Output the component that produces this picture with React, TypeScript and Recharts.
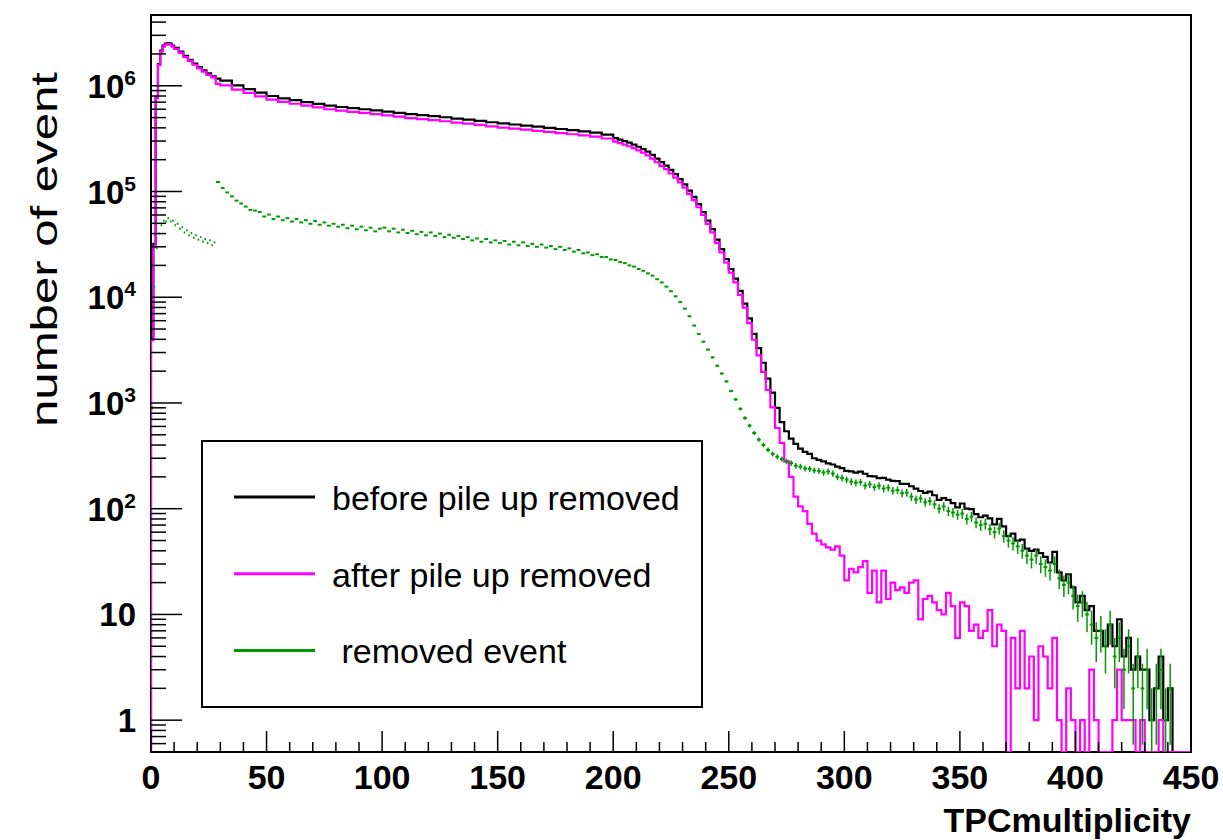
import React from 'react';
import { ComposedChart, Line, Scatter, ErrorBar, XAxis, YAxis, ReferenceArea, Legend } from 'recharts';

// histogram bins: [lower edge, entries]
const beforePileUp: [number, number][] = [
  [0, 4200], [1, 3.2e4], [2, 7.8e5], [3, 1.6e6], [4, 2.15e6], [5, 2.4e6], [6, 2.5e6], [7, 2.53e6], [8, 2.5e6], [9, 2.4e6],
  [10, 2.28e6], [12, 2.1e6], [14, 1.92e6], [16, 1.76e6], [18, 1.62e6], [20, 1.5e6], [22, 1.4e6], [24, 1.31e6], [26, 1.23e6], [28, 1.17e6],
  [30, 1.12e6], [35, 1.01e6], [40, 9.3e5], [45, 8.6e5], [50, 8.0e5], [55, 7.6e5], [60, 7.3e5], [65, 7.0e5], [70, 6.75e5], [75, 6.5e5],
  [80, 6.3e5], [85, 6.15e5], [90, 6.0e5], [95, 5.85e5], [100, 5.7e5], [105, 5.55e5], [110, 5.4e5], [115, 5.28e5], [120, 5.16e5], [125, 5.04e5],
  [130, 4.9e5], [135, 4.78e5], [140, 4.65e5], [145, 4.52e5], [150, 4.4e5], [155, 4.3e5], [160, 4.2e5], [165, 4.1e5], [170, 4.0e5], [175, 3.9e5],
  [180, 3.8e5], [185, 3.7e5], [190, 3.6e5], [195, 3.45e5],
  [200, 3.2e5], [202, 3.1e5], [204, 3.0e5], [206, 2.9e5], [208, 2.78e5], [210, 2.65e5], [212, 2.52e5], [214, 2.38e5], [216, 2.22e5], [218, 2.05e5],
  [220, 1.9e5], [222, 1.76e5], [224, 1.6e5], [226, 1.46e5], [228, 1.31e5], [230, 1.17e5], [232, 1.02e5], [234, 8.9e4], [236, 7.6e4], [238, 6.4e4],
  [240, 5.3e4], [242, 4.4e4], [244, 3.5e4], [246, 2.85e4], [248, 2.3e4], [250, 1.85e4], [252, 1.5e4], [254, 1.15e4], [256, 8700], [258, 6300],
  [260, 4500], [262, 3300], [264, 2400], [266, 1700], [268, 1250], [270, 900], [272, 660], [274, 540], [276, 460], [278, 410],
  [280, 370], [282, 345], [284, 330], [286, 300], [288, 290], [290, 280], [292, 268], [294, 262], [296, 250], [298, 242],
  [300, 228], [302, 225], [304, 219], [306, 224], [308, 214], [310, 203], [312, 202], [314, 195], [316, 196], [318, 188],
  [320, 183], [322, 182], [324, 172], [326, 172], [328, 163], [330, 155], [332, 147], [334, 141], [336, 145], [338, 134],
  [340, 121], [342, 126], [344, 121], [346, 113], [348, 103], [350, 112], [352, 100], [354, 99], [356, 89], [358, 83],
  [360, 86], [362, 81], [364, 71], [366, 80], [368, 68], [370, 55], [372, 58], [374, 50], [376, 51], [378, 42],
  [380, 40], [382, 41], [384, 38], [386, 35], [388, 31], [390, 39], [392, 25], [394, 21], [396, 24], [398, 18],
  [400, 13], [402, 15], [404, 11], [406, 12], [408, 7], [410, 7], [412, 5], [414, 8], [416, 5], [418, 9],
  [420, 4], [422, 6], [424, 3], [426, 4], [428, 3], [430, 3], [432, 1], [434, 2], [436, 4], [438, 1],
  [440, 2], [442, 0], [444, 0], [446, 0], [448, 0],
];

const afterPileUp: [number, number][] = [
  [0, 3900], [1, 3.0e4], [2, 7.6e5], [3, 1.57e6], [4, 2.1e6], [5, 2.35e6], [6, 2.45e6], [7, 2.48e6], [8, 2.45e6], [9, 2.35e6],
  [10, 2.23e6], [12, 2.05e6], [14, 1.87e6], [16, 1.72e6], [18, 1.58e6], [20, 1.46e6], [22, 1.36e6], [24, 1.27e6], [26, 1.2e6], [28, 1.04e6],
  [30, 1.01e6], [35, 9.2e5], [40, 8.55e5], [45, 7.95e5], [50, 7.4e5], [55, 7.04e5], [60, 6.76e5], [65, 6.48e5], [70, 6.24e5], [75, 6.0e5],
  [80, 5.81e5], [85, 5.67e5], [90, 5.53e5], [95, 5.39e5], [100, 5.24e5], [105, 5.1e5], [110, 4.95e5], [115, 4.84e5], [120, 4.73e5], [125, 4.62e5],
  [130, 4.49e5], [135, 4.38e5], [140, 4.26e5], [145, 4.13e5], [150, 4.02e5], [155, 3.93e5], [160, 3.84e5], [165, 3.75e5], [170, 3.66e5], [175, 3.57e5],
  [180, 3.48e5], [185, 3.39e5], [190, 3.31e5], [195, 3.17e5],
  [200, 2.96e5], [202, 2.87e5], [204, 2.77e5], [206, 2.68e5], [208, 2.57e5], [210, 2.45e5], [212, 2.33e5], [214, 2.2e5], [216, 2.05e5], [218, 1.89e5],
  [220, 1.75e5], [222, 1.63e5], [224, 1.48e5], [226, 1.35e5], [228, 1.22e5], [230, 1.09e5], [232, 9.5e4], [234, 8.3e4], [236, 7.1e4], [238, 6.0e4],
  [240, 4.95e4], [242, 4.1e4], [244, 3.26e4], [246, 2.65e4], [248, 2.13e4], [250, 1.71e4], [252, 1.38e4], [254, 1.05e4], [256, 7960], [258, 5700],
  [260, 3960], [262, 2820], [264, 1970], [266, 1330], [268, 910], [270, 580], [272, 420], [274, 280], [276, 200], [278, 130],
  [280, 105], [282, 95], [284, 72], [286, 58], [288, 50], [290, 46], [292, 43], [294, 41], [296, 44], [298, 36],
  [300, 21], [302, 27], [304, 25], [306, 28], [308, 32], [310, 16], [312, 26], [314, 13], [316, 26], [318, 14],
  [320, 20], [322, 17], [324, 18], [326, 16], [328, 20], [330, 21], [332, 9], [334, 14], [336, 15], [338, 13],
  [340, 11], [342, 10], [344, 16], [346, 12], [348, 6], [350, 13], [352, 12], [354, 7], [356, 8], [358, 6],
  [360, 7], [362, 11], [364, 5], [366, 8], [368, 7], [370, 0], [372, 6], [374, 2], [376, 7], [378, 2],
  [380, 4], [382, 1], [384, 5], [386, 4], [388, 2], [390, 6], [392, 1], [394, 0], [396, 2], [398, 1],
  [400, 0], [402, 1], [404, 0], [406, 3], [408, 1], [410, 0], [412, 0], [414, 0], [416, 1], [418, 3],
  [420, 1], [422, 1], [424, 1], [426, 0], [428, 1], [430, 0], [432, 0], [434, 0], [436, 1], [438, 0],
  [440, 0], [442, 0], [444, 0], [446, 0], [448, 0],
];

const removedEvents: [number, number][] = [
  [0, 900], [1, 1.26e4], [2, 2.9e4], [3, 4.0e4], [4, 4.8e4], [5, 5.3e4], [6, 5.2e4], [7, 5.6e4], [8, 5.2e4], [9, 5.3e4],
  [10, 4.8e4], [11, 4.95e4], [12, 4.45e4], [13, 4.6e4], [14, 4.1e4], [15, 4.3e4], [16, 3.85e4], [17, 4.05e4], [18, 3.65e4], [19, 3.85e4],
  [20, 3.5e4], [21, 3.7e4], [22, 3.35e4], [23, 3.55e4], [24, 3.25e4], [25, 3.45e4], [26, 3.1e4], [27, 3.3e4],
  [28, 1.23e5], [30, 1.08e5], [32, 9.8e4], [34, 9.0e4], [36, 8.2e4], [38, 7.7e4], [40, 7.2e4], [42, 6.7e4], [44, 6.6e4], [46, 6.4e4],
  [48, 5.8e4], [50, 6.05e4], [52, 5.5e4], [54, 5.8e4], [56, 5.35e4], [58, 5.6e4], [60, 5.2e4], [62, 5.5e4], [64, 5.1e4], [66, 5.35e4],
  [68, 4.95e4], [70, 5.25e4], [72, 4.85e4], [74, 5.1e4], [76, 4.75e4], [78, 4.95e4], [80, 4.65e4], [82, 4.85e4], [84, 4.5e4], [86, 4.75e4],
  [88, 4.4e4], [90, 4.65e4], [92, 4.3e4], [94, 4.55e4], [96, 4.2e4], [98, 4.45e4], [100, 4.55e4], [102, 4.2e4], [104, 4.45e4], [106, 4.1e4],
  [108, 4.35e4], [110, 4.05e4], [112, 4.25e4], [114, 3.95e4], [116, 4.15e4], [118, 3.85e4], [120, 4.1e4], [122, 3.8e4], [124, 4.0e4], [126, 3.7e4],
  [128, 3.9e4], [130, 3.65e4], [132, 3.8e4], [134, 3.55e4], [136, 3.7e4], [138, 3.45e4], [140, 3.6e4], [142, 3.35e4], [144, 3.55e4], [146, 3.3e4],
  [148, 3.45e4], [150, 3.25e4], [152, 3.4e4], [154, 3.15e4], [156, 3.35e4], [158, 3.1e4], [160, 3.3e4], [162, 3.05e4], [164, 3.2e4], [166, 3.0e4],
  [168, 3.15e4], [170, 2.95e4], [172, 3.05e4], [174, 2.85e4], [176, 3.0e4], [178, 2.8e4], [180, 2.9e4], [182, 2.7e4], [184, 2.8e4], [186, 2.6e4],
  [188, 2.65e4], [190, 2.5e4], [192, 2.55e4], [194, 2.4e4], [196, 2.4e4], [198, 2.28e4], [200, 2.25e4], [202, 2.15e4], [204, 2.1e4], [206, 2.0e4],
  [208, 1.95e4], [210, 1.85e4], [212, 1.78e4], [214, 1.68e4], [216, 1.6e4], [218, 1.48e4], [220, 1.38e4], [222, 1.26e4], [224, 1.14e4], [226, 1.02e4],
  [228, 9000], [230, 7800], [232, 6600], [234, 5400], [236, 4500], [238, 3800], [240, 3200], [242, 2700], [244, 2250], [246, 1900],
  [248, 1600], [250, 1300], [252, 1080], [254, 880], [256, 720], [258, 610], [260, 520], [262, 450], [264, 400], [266, 360],
  [268, 330], [270, 310], [272, 295], [274, 280], [276, 270], [278, 255], [280, 250], [282, 240], [284, 238], [286, 230],
  [288, 228], [290, 220], [292, 225], [294, 215], [296, 200], [298, 195], [300, 188], [302, 180], [304, 176], [306, 178],
  [308, 165], [310, 170], [312, 160], [314, 165], [316, 155], [318, 158], [320, 148], [322, 150], [324, 140], [326, 142],
  [328, 130], [330, 122], [332, 125], [334, 115], [336, 118], [338, 110], [340, 100], [342, 105], [344, 95], [346, 92],
  [348, 88], [350, 90], [352, 80], [354, 84], [356, 74], [358, 70], [360, 72], [362, 64], [364, 60], [366, 65],
  [368, 55], [370, 50], [372, 47], [374, 44], [376, 40], [378, 36], [380, 33], [382, 36], [384, 30], [386, 28],
  [388, 26], [390, 30], [392, 22], [394, 19], [396, 20], [398, 15], [400, 12], [402, 13], [404, 10], [406, 8],
  [408, 6], [410, 7], [412, 5], [414, 8], [416, 4], [418, 6], [420, 3], [422, 5], [424, 2], [426, 4],
  [428, 2], [430, 3], [432, 1], [434, 2], [436, 3], [438, 1], [440, 2],
];

const xTicks = [
  0, 10, 20, 30, 40, 50, 60, 70, 80, 90, 100, 110, 120, 130, 140, 150, 160, 170, 180, 190, 200, 210, 220,
  230, 240, 250, 260, 270, 280, 290, 300, 310, 320, 330, 340, 350, 360, 370, 380, 390, 400, 410, 420, 430, 440, 450,
];
const xLabelTicks = [0, 50, 100, 150, 200, 250, 300, 350, 400, 450];
const yDecades = [0.1, 1, 10, 100, 1e3, 1e4, 1e5, 1e6];
const yMultipliers = [1, 2, 3, 4, 5, 6, 7, 8, 9];

const legendItems = [
  { name: 'before pile up removed', color: '#000000' },
  { name: 'after pile up removed', color: '#ff00ff' },
  { name: ' removed event', color: '#009900' },
];

const X_MAX = 450;
const Y_MIN = 0.5;
const Y_MAX = 4.67e6;
const PLOT_W = 1040;
const PX_PER_UNIT = PLOT_W / X_MAX;
const FONT = '"Liberation Sans", Arial, Helvetica, sans-serif';
const GREEN = '#009900';

const yTicks = yDecades
  .flatMap((d) => yMultipliers.map((m) => +(d * m).toPrecision(3)))
  .filter((v) => v > Y_MIN && v <= Y_MAX);

// step histogram: start on the floor, one point per lower edge, close at x max
const toStep = (bins: [number, number][]) => {
  const pts = bins.map(([x, c]) => ({ x, y: Math.max(c, Y_MIN) }));
  return [{ x: 0, y: Y_MIN }, ...pts, { x: X_MAX, y: pts[pts.length - 1].y }];
};

const beforeData = toStep(beforePileUp);
const afterData = toStep(afterPileUp);

// error-bar points at bin centres, Poisson errors
const removedData = removedEvents.map(([lo, c], i) => {
  const w = i < removedEvents.length - 1 ? removedEvents[i + 1][0] - lo : 2;
  const e = Math.sqrt(c);
  return { x: lo + w / 2, y: c, w, err: [Math.min(e, c - Y_MIN), e] };
});

const XTick = (props: any) => {
  const { x, y, payload } = props;
  const major = xLabelTicks.includes(payload.value);
  return (
    <g>
      <line x1={x} x2={x} y1={y} y2={y - (major ? 21 : 10)} stroke="#000" strokeWidth={1.5} />
      {major && (
        <text x={x} y={y + 37} textAnchor="middle" fontFamily={FONT} fontWeight={700} fontSize={34} fill="#000">
          {payload.value}
        </text>
      )}
    </g>
  );
};

const YTick = (props: any) => {
  const { x, y, payload } = props;
  const v = payload.value;
  const exp = Math.round(Math.log10(v));
  const major = Math.abs(Math.log10(v) - exp) < 1e-6;
  return (
    <g>
      <line x1={x} x2={x + (major ? 31 : 15)} y1={y} y2={y} stroke="#000" strokeWidth={1.5} />
      {major && exp >= 0 && (
        <text x={x - 15} y={y + 12} textAnchor="end" fontFamily={FONT} fontWeight={700} fontSize={33} fill="#000">
          {exp <= 1 ? (
            <tspan>{v}</tspan>
          ) : (
            <>
              <tspan>10</tspan>
              <tspan dy={-13} fontSize={21}>{exp}</tspan>
            </>
          )}
        </text>
      )}
    </g>
  );
};

const XTitle = (props: any) => {
  const vb = props.viewBox;
  return (
    <text x={vb.x + vb.width} y={vb.y + 80} textAnchor="end" fontFamily={FONT} fontWeight={700} fontSize={34} fill="#000">
      TPCmultiplicity
    </text>
  );
};

const YTitle = (props: any) => {
  const vb = props.viewBox;
  const x = vb.x + 57;
  const y = vb.y + 57;
  return (
    <text
      x={x}
      y={y}
      transform={`rotate(-90, ${x}, ${y})`}
      textAnchor="end"
      fontFamily={FONT}
      fontSize={37}
      textLength={355}
      lengthAdjust="spacingAndGlyphs"
      fill="#000"
    >
      number of event
    </text>
  );
};

const BinDash = (props: any) => {
  const { cx, cy, payload } = props;
  const half = (payload.w * PX_PER_UNIT) / 2 - 0.4;
  return <line x1={cx - half} x2={cx + half} y1={cy} y2={cy} stroke={GREEN} strokeWidth={2} />;
};

const LegendBox = () => (
  <svg width={502} height={268} style={{ display: 'block' }}>
    <rect x={1} y={1} width={500} height={266} fill="#fff" stroke="#000" strokeWidth={2} />
    {legendItems.map((item, i) => {
      const ly = 57 + i * 76.7;
      return (
        <g key={item.name}>
          <line x1={33} x2={114} y1={ly} y2={ly} stroke={item.color} strokeWidth={3} />
          <text
            x={131}
            y={ly + 13}
            fontFamily={FONT}
            fontSize={34}
            fill="#000"
            style={{ whiteSpace: 'pre' }}
          >
            {item.name}
          </text>
        </g>
      );
    })}
  </svg>
);

export default function App() {
  return (
    <div style={{ position: 'absolute', left: 0, top: 0, background: '#fff' }}>
      <ComposedChart width={1223} height={840} margin={{ top: 15, right: 32, bottom: 0, left: 0 }}>
        <XAxis
          type="number"
          dataKey="x"
          domain={[0, X_MAX]}
          ticks={xTicks}
          interval={0}
          allowDataOverflow
          axisLine={false}
          tickLine={false}
          tickSize={0}
          tickMargin={0}
          height={88}
          tick={(p: any) => <XTick {...p} />}
          label={<XTitle />}
        />
        <YAxis
          type="number"
          dataKey="y"
          scale="log"
          domain={[Y_MIN, Y_MAX]}
          ticks={yTicks}
          interval={0}
          allowDataOverflow
          axisLine={false}
          tickLine={false}
          tickSize={0}
          tickMargin={0}
          width={151}
          tick={(p: any) => <YTick {...p} />}
          label={<YTitle />}
        />
        <Legend
          layout="horizontal"
          verticalAlign="middle"
          align="center"
          wrapperStyle={{ left: 201, top: 440, width: 502, height: 268 }}
          content={() => <LegendBox />}
        />
        <Line
          data={beforeData}
          dataKey="y"
          type="stepAfter"
          stroke="#000"
          strokeWidth={2.2}
          dot={false}
          activeDot={false}
          isAnimationActive={false}
        />
        <Line
          data={afterData}
          dataKey="y"
          type="stepAfter"
          stroke="#ff00ff"
          strokeWidth={2.2}
          dot={false}
          activeDot={false}
          isAnimationActive={false}
        />
        <Scatter data={removedData} dataKey="y" shape={(p: any) => <BinDash {...p} />} isAnimationActive={false}>
          <ErrorBar dataKey="err" direction="y" width={0} stroke={GREEN} strokeWidth={1.5} isAnimationActive={false} />
        </Scatter>
        <ReferenceArea
          x1={0}
          x2={X_MAX}
          y1={Y_MIN}
          y2={Y_MAX}
          fill="none"
          stroke="#000"
          strokeWidth={2}
          ifOverflow="visible"
        />
      </ComposedChart>
    </div>
  );
}
